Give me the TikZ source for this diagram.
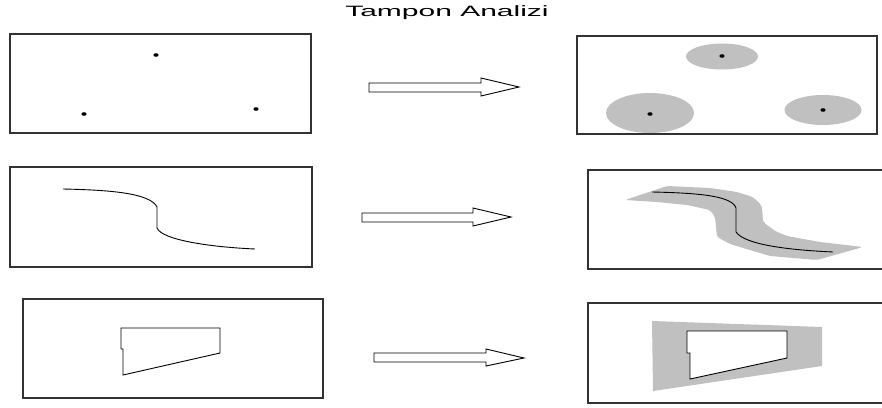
\documentclass[tikz,border=0pt]{standalone}
\usepackage{fontspec}
\setmainfont{Liberation Sans}
\definecolor{buffergray}{RGB}{192,192,192}
\definecolor{framegray}{RGB}{50,50,50}
\begin{document}
\begin{tikzpicture}[x=1pt,y=-1pt,
  frame/.style={draw=framegray,line width=1.2pt},
  frameside/.style={draw=framegray,line width=2pt},
  feature/.style={draw=black,line width=0.9pt,line join=miter},
  buffer/.style={fill=buffergray,draw=none},
  pointmark/.style={fill=black,draw=none},
  fatarrow/.style={draw=black,line width=0.9pt,fill=white,line join=miter}]
\useasboundingbox (0,0) rectangle (882,407);
\clip (0,0) rectangle (882,407);

% title
\node[inner sep=0pt, xscale=2] (title) at (447,13) {\fontsize{15}{18}\selectfont Tampon Analizi};

% ---------- row 1: points ----------
\draw[frame] (10,34) rectangle (311,133);
\draw[frameside] (10,34) -- (10,133) (311,34) -- (311,133);
\fill[pointmark] (156,55) ellipse (2.6 and 1.8);
\fill[pointmark] (84,114) ellipse (2.6 and 1.8);
\fill[pointmark] (256,109) ellipse (2.6 and 1.8);

\draw[fatarrow] (369,83) -- (481,83) -- (481,78) -- (519,87) -- (481,96) -- (481,92) -- (369,92) -- cycle;

\draw[frame] (577,36) rectangle (877,134);
\draw[frameside] (577,36) -- (577,134) (877,36) -- (877,134);
\fill[buffer] (722,56.5) ellipse (36 and 13);
\fill[buffer] (650,113) ellipse (44 and 20);
\fill[buffer] (823,110) ellipse (38.5 and 15);
\fill[pointmark] (722,56) ellipse (2.6 and 1.8);
\fill[pointmark] (650,114) ellipse (2.6 and 1.8);
\fill[pointmark] (823,110) ellipse (2.6 and 1.8);

% ---------- row 2: line ----------
\draw[frame] (10,167) rectangle (312,267);
\draw[frameside] (10,167) -- (10,267) (312,167) -- (312,267);
\draw[feature] (63,189) .. controls (110,190) and (150,193) .. (157,207)
  -- (157,228) .. controls (162,240) and (210,247) .. (255,249);

\draw[fatarrow] (362,213) -- (473,213) -- (473,208) -- (511,217) -- (473,226) -- (473,222) -- (362,222) -- cycle;

\draw[frame] (588,170) rectangle (892,269);
\draw[frameside] (588,170) -- (588,269);
\fill[buffer, rounded corners=3pt] (625,200) -- (667,186) -- (710,188) -- (737,192) -- (753,197)
  -- (762,206) -- (763,222) -- (775,231) -- (787,236) -- (820,242) -- (863,247) -- (817,260)
  -- (770,256) -- (730,244) -- (717,237) -- (715,217) -- (710,210) -- (687,205) -- (657,202) -- cycle;
\draw[feature] (652,192) .. controls (700,193) and (732,196) .. (736,208)
  -- (736,232) .. controls (745,245) and (790,250) .. (833,252);

% ---------- row 3: polygon ----------
\draw[frame] (23,299) rectangle (323,398);
\draw[frameside] (23,299) -- (23,398) (323,299) -- (323,398);
\draw[feature] (121,349) -- (121,328) -- (220,328) -- (220,353) -- (123,375) -- (123,349) -- cycle;

\draw[fatarrow] (374,353) -- (486,353) -- (486,349) -- (524,358) -- (486,366) -- (486,362) -- (374,362) -- cycle;

\draw[frame] (588,303) rectangle (892,403);
\draw[frameside] (588,303) -- (588,403);
\fill[buffer] (652,321) -- (822,327) -- (822,366) -- (653,391) -- cycle;
\draw[feature, fill=white] (687,353) -- (687,331) -- (787,331) -- (787,358) -- (690,379) -- (690,353) -- cycle;
\end{tikzpicture}
\end{document}
